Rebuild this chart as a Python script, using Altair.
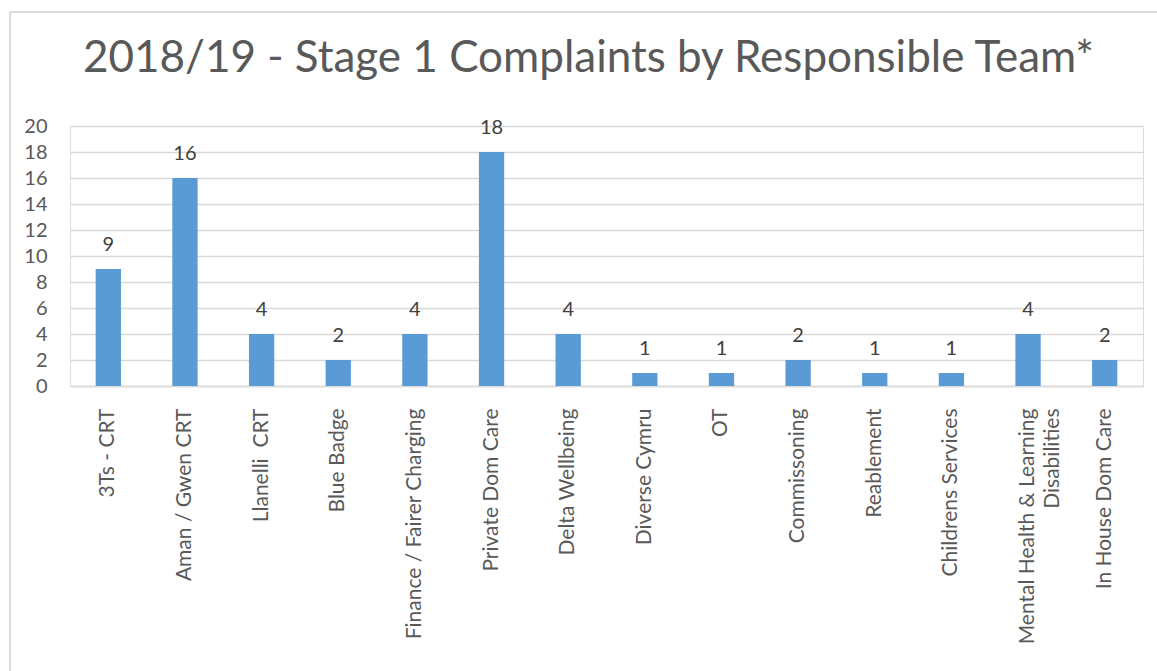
import altair as alt
import pandas as pd

teams = ["3Ts - CRT", "Aman / Gwen CRT", "Llanelli  CRT", "Blue Badge",
         "Finance / Fairer Charging", "Private Dom Care", "Delta Wellbeing",
         "Diverse Cymru", "OT", "Commissoning", "Reablement",
         "Childrens Services", "Mental Health & Learning Disabilities",
         "In House Dom Care"]
complaints = [9, 16, 4, 2, 4, 18, 4, 1, 1, 2, 1, 1, 4, 2]
y_ticks = [0, 2, 4, 6, 8, 10, 12, 14, 16, 18, 20]

df = pd.DataFrame({"team": teams, "n": complaints})

FONT = "Lato"
GRID = "#D9D9D9"
TXT = "#595959"

label_expr = ("datum.label == 'Mental Health & Learning Disabilities' ? "
              "['Mental Health & Learning', 'Disabilities" + "\u00a0" * 15 + "'] : "
              "replace(datum.label, '  ', '\u00a0 ')")

x = alt.X("team:N", sort=teams, title=None,
          scale=alt.Scale(paddingInner=0.67, paddingOuter=0.335),
          axis=alt.Axis(labelAngle=-90, labelAlign="right", labelBaseline="middle",
                        labelPadding=22, ticks=False, domainColor=GRID, domainWidth=1.5,
                        labelFont=FONT, labelFontSize=21, labelColor=TXT,
                        labelExpr=label_expr, labelLimit=400, labelLineHeight=25,
                        labelOverlap=False))
y = alt.Y("n:Q", title=None, scale=alt.Scale(domain=[0, 20]),
          axis=alt.Axis(values=y_ticks, domain=False, ticks=False,
                        labelPadding=23, gridColor=GRID, gridWidth=1.5, labelOverlap=False,
                        labelFont=FONT, labelFontSize=20, labelColor=TXT))

base = alt.Chart(df).encode(x=x, y=y)
bars = base.mark_bar(color="#5B9BD5")
labels = base.mark_text(font=FONT, fontSize=20, color="#404040",
                        baseline="alphabetic", dy=-18).encode(text="n:Q")

frame_left = alt.Chart(df).mark_rule(color=GRID, strokeWidth=2).encode(
    x=alt.value(-60), y=alt.value(-114), y2=alt.value(560))
frame_top = alt.Chart(df).mark_rule(color=GRID, strokeWidth=2).encode(
    x=alt.value(-60), x2=alt.value(1100), y=alt.value(-114))

chart = alt.layer(bars, labels, frame_left, frame_top).properties(
    width=1073, height=260,
    title=alt.TitleParams("2018/19 - Stage 1 Complaints by Responsible Team*",
                          font=FONT, fontSize=44, fontWeight="normal", color=TXT,
                          anchor="middle", dx=-18, baseline="alphabetic", offset=-105),
    autosize=alt.AutoSizeParams(type="none"),
    padding={"left": 70, "top": 126, "right": 14, "bottom": 285},
).configure_view(stroke=None).configure(background="white")

chart.save("out.html", embed_options={"renderer": "svg", "actions": False})
